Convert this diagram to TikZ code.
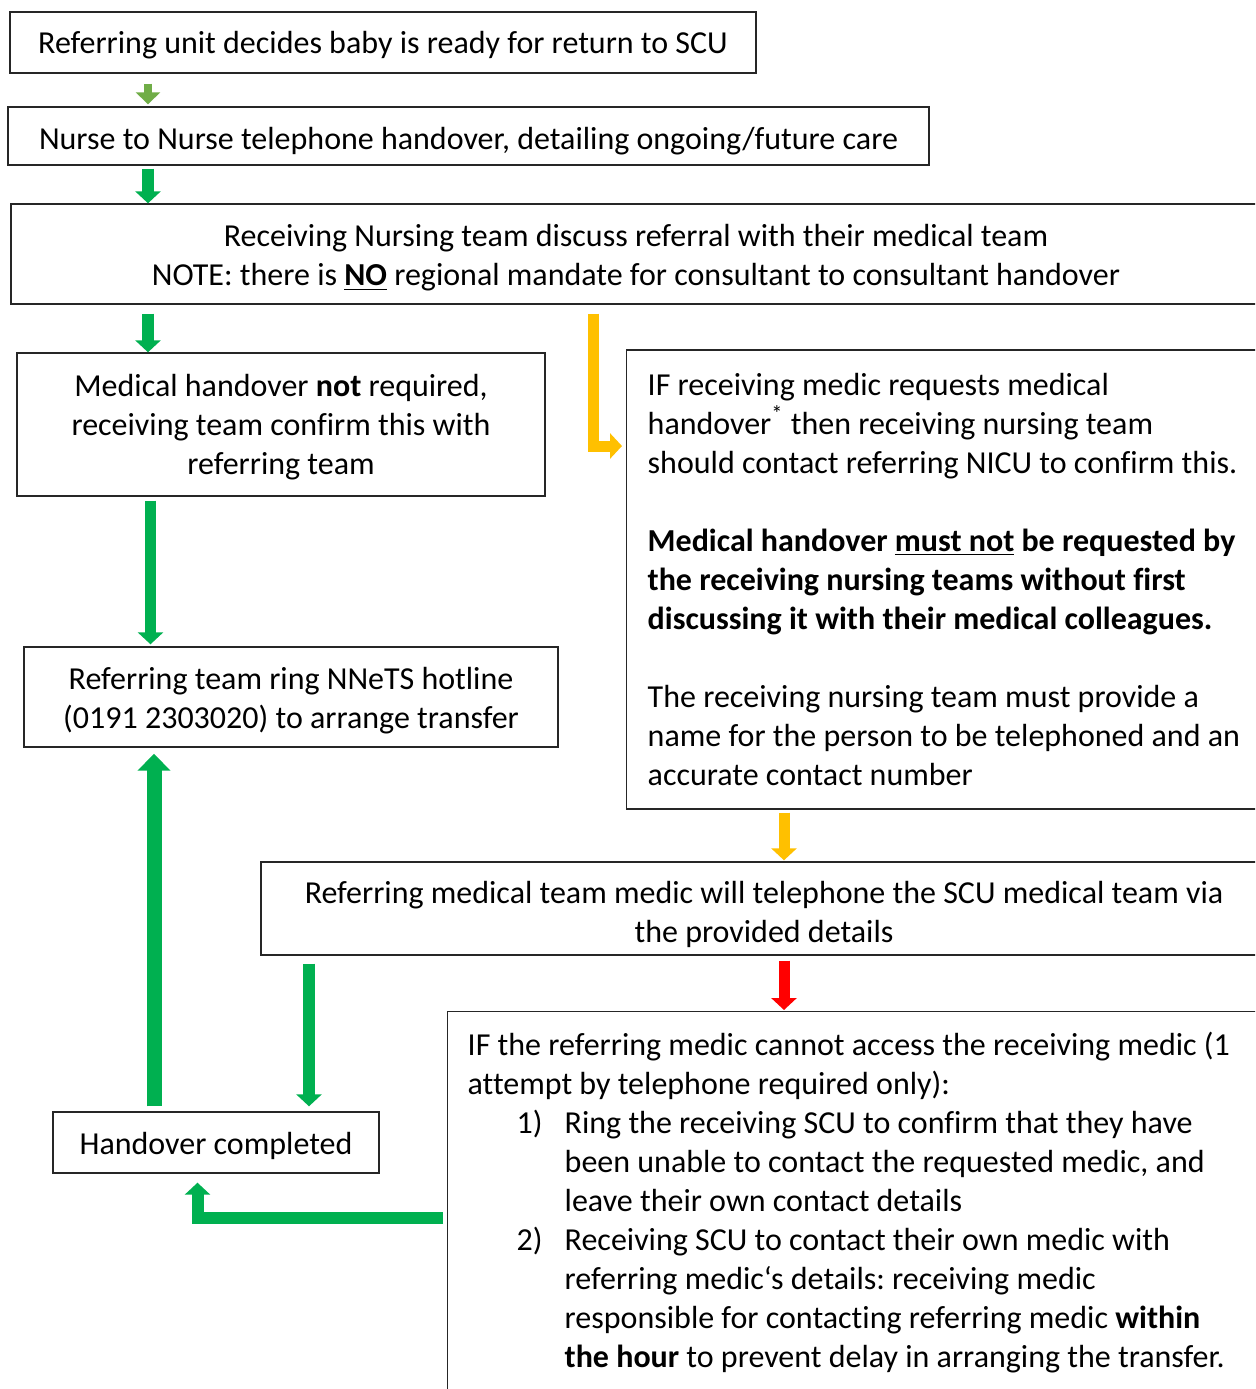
\documentclass[tikz,border=0pt]{standalone}
\usepackage{fontspec}
\setmainfont{Carlito}[Ligatures=NoCommon]
\frenchspacing
\usetikzlibrary{arrows.meta}

\definecolor{flowgreen}{RGB}{0,176,80}
\definecolor{lightgreen}{RGB}{112,173,71}
\definecolor{flowamber}{RGB}{255,192,0}
\definecolor{flowred}{RGB}{255,0,0}

% invisible strut that lowers the text a little in its box
\newcommand\textdrop[1]{\rule{0pt}{#1}}

\tikzset{
  box/.style={draw=black!85, line width=0.7pt, fill=white, inner sep=0pt, align=center},
  garrow/.style={draw=flowgreen, line width=6pt, -{Triangle[width=12.5pt,length=6pt]}},
  yarrow/.style={draw=flowamber, line width=5.5pt, -{Triangle[width=12.5pt,length=6pt]}},
  rarrow/.style={draw=flowred, line width=5.5pt, -{Triangle[width=12.5pt,length=6pt]}}
}

\begin{document}
\begin{tikzpicture}[x=0.5pt, y=-0.5pt, every node/.style={font=\fontsize{16}{19.5}\selectfont}]
            \useasboundingbox (0,0) rectangle (1255,1389);
            \clip (0,0) rectangle (1255,1389);

            % Boxes down the left and the wide ones
            \node[box, minimum width=373pt, minimum height=30.5pt] (n1) at (383,42.5)
                {\textdrop{14.2pt}Referring unit decides baby is ready for return to SCU};
            \node[box, minimum width=460.5pt, minimum height=29pt] (n2) at (468.5,136)
                {\textdrop{16.2pt}Nurse to Nurse telephone handover, detailing ongoing/future care};
            \node[box, minimum width=625pt, minimum height=50pt] (n3) at (636,254)
                {\textdrop{15.2pt}Receiving Nursing team discuss referral with their medical team\\
                 NOTE: there is \underline{\textbf{NO}} regional mandate for consultant to consultant handover};
            \node[box, minimum width=264pt, minimum height=71.5pt] (n4) at (281,424.5)
                {\textdrop{14.2pt}Medical handover \textbf{not} required,\\ receiving team confirm this with\\ referring team};
            \node[box, minimum width=267pt, minimum height=50pt] (n6) at (291,697)
                {\textdrop{15.2pt}Referring team ring NNeTS hotline\\ (0191 2303020) to arrange transfer};
            \node[box, minimum width=163pt, minimum height=30.5pt] (n8) at (216,1142.5)
                {\textdrop{14.2pt}Handover completed};

            % Boxes on the right
            \node[box, anchor=west, align=flush left, text width=310pt, inner xsep=10.5pt, minimum height=229.5pt] (n5) at (626,579.5)
                {IF receiving medic requests medical\\
                 handover\textsuperscript{*} then receiving nursing team\\
                 should contact referring NICU to confirm this.\\[19.5pt]
                 \textbf{Medical handover \underline{must not} be requested by}\\
                 \textbf{the receiving nursing teams without first}\\
                 \textbf{discussing it with their medical colleagues.}\\[19.5pt]
                 The receiving nursing team must provide a\\
                 name for the person to be telephoned and an\\
                 accurate contact number};
            \node[box, minimum width=503pt, minimum height=46.5pt] (n7) at (764,908.5)
                {\textdrop{17.2pt}Referring medical team medic will telephone the SCU medical team via\\ the provided details};
            \node[box, anchor=north west, align=flush left, text width=400pt, inner xsep=10pt, inner ysep=10pt] (n9) at (447,1011)
                {IF the referring medic cannot access the receiving medic (1\\
                 attempt by telephone required only):\\
                 \hspace*{24.5pt}\makebox[24pt][l]{1)}Ring the receiving SCU to confirm that they have\\
                 \hspace*{48.5pt}been unable to contact the requested medic, and\\
                 \hspace*{48.5pt}leave their own contact details\\
                 \hspace*{24.5pt}\makebox[24pt][l]{2)}Receiving SCU to contact their own medic with\\
                 \hspace*{48.5pt}referring medic‘s details: receiving medic\\
                 \hspace*{48.5pt}responsible for contacting referring medic \textbf{within}\\
                 \hspace*{48.5pt}\textbf{the hour} to prevent delay in arranging the transfer.\\[12pt]};

            % Arrows
            \draw[draw=lightgreen, line width=4pt, -{Triangle[width=12pt,length=6pt]}, shorten <=5pt, shorten >=1pt]
                (n1.south -| 148,0) -- (n2.north -| 148,0);
            \draw[garrow, shorten <=1.5pt] (n2.south -| 148,0) -- (n3.north -| 148,0);
            \draw[garrow, shorten <=4.5pt] (n3.south -| 148,0) -- (n4.north -| 148,0);
            \draw[yarrow, shorten <=4.5pt, shorten >=2pt] (n3.south -| 593,0) |- (n5.west |- 0,446);
            \draw[garrow, line width=5.5pt, shorten <=2pt, shorten >=1pt] (n4.south -| 150.5,0) -- (n6.north -| 150.5,0);
            \draw[garrow, line width=7.5pt, -{Triangle[width=16pt,length=8.5pt]}, shorten <=2.5pt, shorten >=3pt]
                (n8.north -| 154,0) -- (n6.south -| 154,0);
            \draw[yarrow, shorten <=1.5pt, shorten >=0.5pt] (n5.south -| 784,0) -- (n7.north -| 784,0);
            \draw[rarrow, shorten <=2.5pt, shorten >=0.5pt] (n7.south -| 784,0) -- (n9.north -| 784,0);
            \draw[garrow, shorten <=4pt, shorten >=2.5pt] (n7.south -| 309,0) -- (n8.north -| 309,0);
            \draw[garrow, shorten <=2pt, shorten >=4.5pt] (n9.west |- 0,1217.5) -| (n8.south -| 197.5,0);
        \end{tikzpicture}
\end{document}
